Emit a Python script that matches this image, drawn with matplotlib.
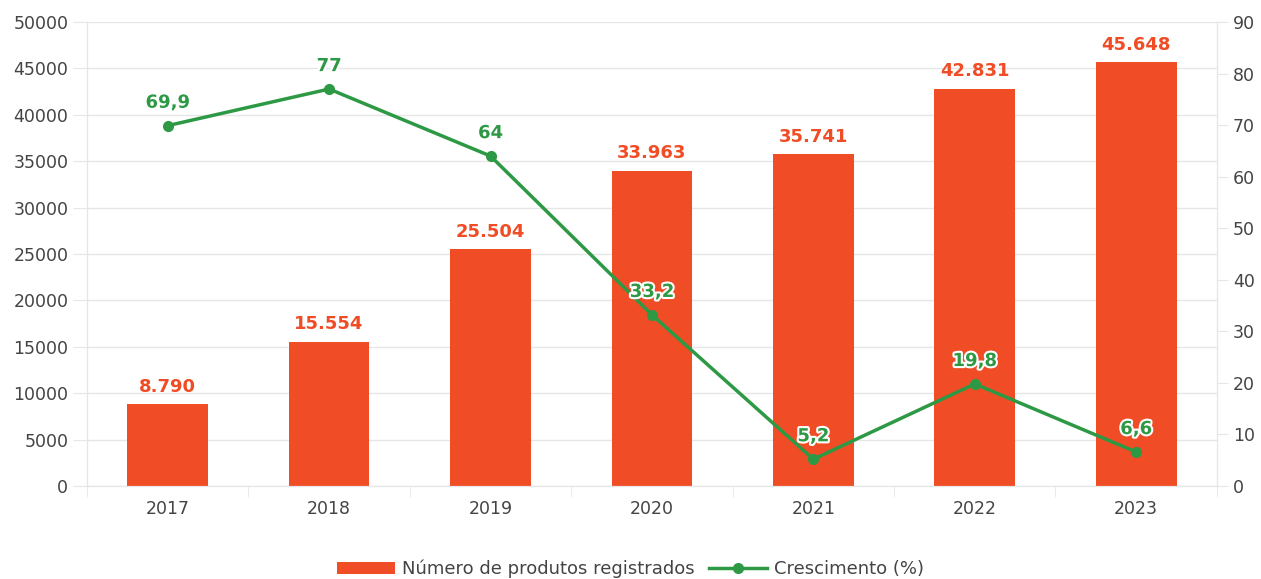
import matplotlib
matplotlib.use('Agg')
import matplotlib.pyplot as plt
import matplotlib.patheffects as pe

# dados
anos = ['2017', '2018', '2019', '2020', '2021', '2022', '2023']
produtos = [8790, 15554, 25504, 33963, 35741, 42831, 45648]
crescimento = [69.9, 77, 64, 33.2, 5.2, 19.8, 6.6]

LARANJA = '#f04c25'
VERDE = '#2e9945'
CINZA = '#e6e6e6'
TEXTO = '#444444'

plt.rcParams['font.family'] = ['DejaVu Sans']


def fmt_milhar(v):
    return f'{v:,}'.replace(',', '.')


def fmt_pct(v):
    s = f'{v:g}'
    return s.replace('.', ',')


def main():
    fig = plt.figure(figsize=(12.61, 5.79), dpi=100)
    ax = fig.add_axes([0.069, 0.1606, 0.896, 0.8014])
    x = list(range(len(anos)))

    barras = ax.bar(x, produtos, width=0.5, color=LARANJA, zorder=2,
                    label='Número de produtos registrados')
    ax.set_xlim(-0.5, len(anos) - 0.5)
    ax.set_ylim(0, 50000)
    ax.set_yticks(range(0, 50001, 5000))
    ax.set_xticks(x)
    ax.set_xticklabels(anos)
    ax.grid(axis='y', color=CINZA, linewidth=1, zorder=0)
    for b, v in zip(barras, produtos):
        ax.annotate(fmt_milhar(v), (b.get_x() + b.get_width() / 2, v),
                    xytext=(0, 6), textcoords='offset points', ha='center',
                    va='bottom', color=LARANJA, fontsize=13, fontweight='bold')

    ax2 = ax.twinx()
    linha, = ax2.plot(x, crescimento, color=VERDE, linewidth=2.5, marker='o',
                      markersize=7, label='Crescimento (%)', zorder=3)
    ax2.set_ylim(0, 90)
    ax2.set_yticks(range(0, 91, 10))
    for xi, v in zip(x, crescimento):
        ax2.annotate(fmt_pct(v), (xi, v), xytext=(0, 10),
                     textcoords='offset points', ha='center', va='bottom',
                     color=VERDE, fontsize=13, fontweight='bold',
                     path_effects=[pe.withStroke(linewidth=3, foreground='white')])

    for a in (ax, ax2):
        for s in a.spines.values():
            s.set_color(CINZA)
        a.spines['top'].set_visible(False)
        a.tick_params(axis='y', colors=TEXTO, labelsize=12.5, length=8, color=CINZA)
    ax.tick_params(axis='x', colors=TEXTO, labelsize=12.5, length=0, pad=10)
    # marcas entre categorias
    ax.set_xticks([i - 0.5 for i in range(len(anos) + 1)], minor=True)
    ax.tick_params(axis='x', which='minor', length=8, color=CINZA)
    ax.tick_params(axis='y', colors=TEXTO, labelsize=12.5, length=10, color=CINZA)

    fig.legend(handles=[barras, linha], loc='center', bbox_to_anchor=(0.5, 0.017),
               ncol=2, frameon=False, fontsize=13, handlelength=3.2,
               columnspacing=0.8, handletextpad=0.4, labelcolor=TEXTO)

    fig.savefig('out.png', dpi=100)


if __name__ == '__main__':
    main()
